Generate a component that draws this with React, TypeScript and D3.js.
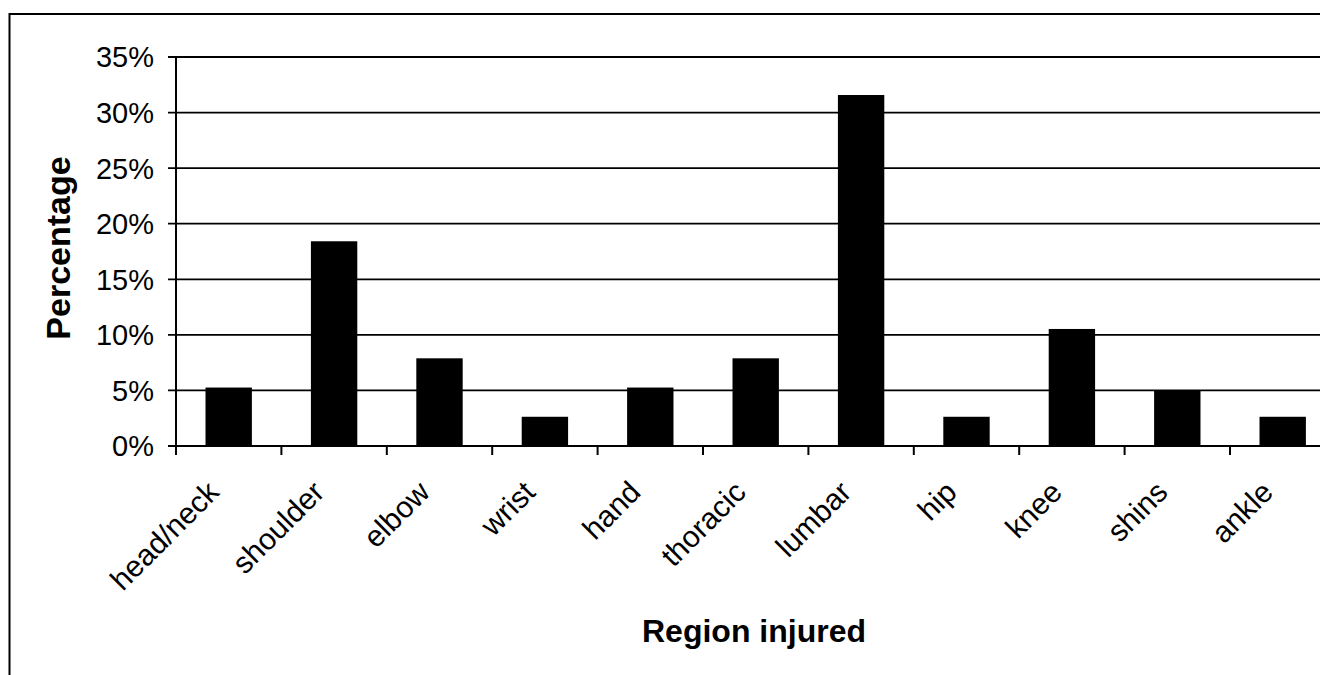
import React from "react";
import * as d3 from "d3";

const categories = ["head/neck", "shoulder", "elbow", "wrist", "hand", "thoracic", "lumbar", "hip", "knee", "shins", "ankle"];
const values = [5.26, 18.42, 7.89, 2.63, 5.26, 7.89, 31.58, 2.63, 10.53, 5.0, 2.63];
const yTicks = [0, 5, 10, 15, 20, 25, 30, 35];

const W = 1320;
const H = 675;
const left = 176;
const bandStep = 105.4;
const top = 57;
const bottom = 446;
const font = "'Liberation Sans', Arial, sans-serif";

export default function App() {
  const x = d3
    .scaleBand<string>()
    .domain(categories)
    .range([left, left + bandStep * categories.length])
    .padding(0);
  const y = d3.scaleLinear().domain([0, 35]).range([bottom, top]);
  const bw = x.bandwidth();
  const barW = bw * 0.44;
  const boundaries = categories.map((c) => x(c) as number).concat([left + bandStep * categories.length]);

  return (
    <svg
      width={W}
      height={H}
      style={{ position: "absolute", left: 0, top: 0, background: "#fff" }}
      fontFamily={font}
    >
      <rect x={0} y={0} width={W} height={H} fill="#fff" />
      {/* outer frame */}
      <line x1={9.5} y1={14} x2={W + 10} y2={14} stroke="#000" strokeWidth={2} />
      <line x1={9.5} y1={13} x2={9.5} y2={H + 10} stroke="#000" strokeWidth={2} />

      {/* gridlines */}
      {yTicks.map((t) => (
        <line key={"g" + t} x1={left - 8} x2={W + 10} y1={y(t)} y2={y(t)} stroke="#000" strokeWidth={1.8} />
      ))}
      {/* bars */}
      {categories.map((c, i) => (
        <rect
          key={c}
          x={(x(c) as number) + (bw - barW) / 2}
          y={y(values[i])}
          width={barW}
          height={y(0) - y(values[i])}
          fill="#000"
        />
      ))}
      {/* axes */}
      <line x1={left} x2={left} y1={top} y2={bottom} stroke="#000" strokeWidth={2} />
      <line x1={left} x2={W + 10} y1={bottom} y2={bottom} stroke="#000" strokeWidth={2} />
      {boundaries.map((b, i) => (
        <line key={"t" + i} x1={b} x2={b} y1={bottom} y2={bottom + 9} stroke="#000" strokeWidth={2} />
      ))}
      {/* y tick labels */}
      {yTicks.map((t) => (
        <text key={"yl" + t} x={154} y={y(t)} dy="0.36em" textAnchor="end" fontSize={29} fill="#000">
          {t + "%"}
        </text>
      ))}
      {/* x tick labels */}
      {categories.map((c) => {
        const cx = (x(c) as number) + bw / 2 - 8;
        const cy = 494;
        return (
          <text
            key={"xl" + c}
            x={cx}
            y={cy}
            textAnchor="end"
            fontSize={30}
            fill="#000"
            transform={`rotate(-45, ${cx}, ${cy})`}
          >
            {c}
          </text>
        );
      })}
      {/* axis titles */}
      <text
        x={0}
        y={0}
        transform={`translate(70, 248) rotate(-90)`}
        textAnchor="middle"
        fontSize={34}
        fontWeight="bold"
        fill="#000"
      >
        Percentage
      </text>
      <text x={754} y={642} textAnchor="middle" fontSize={32} fontWeight="bold" fill="#000">
        Region injured
      </text>
    </svg>
  );
}
